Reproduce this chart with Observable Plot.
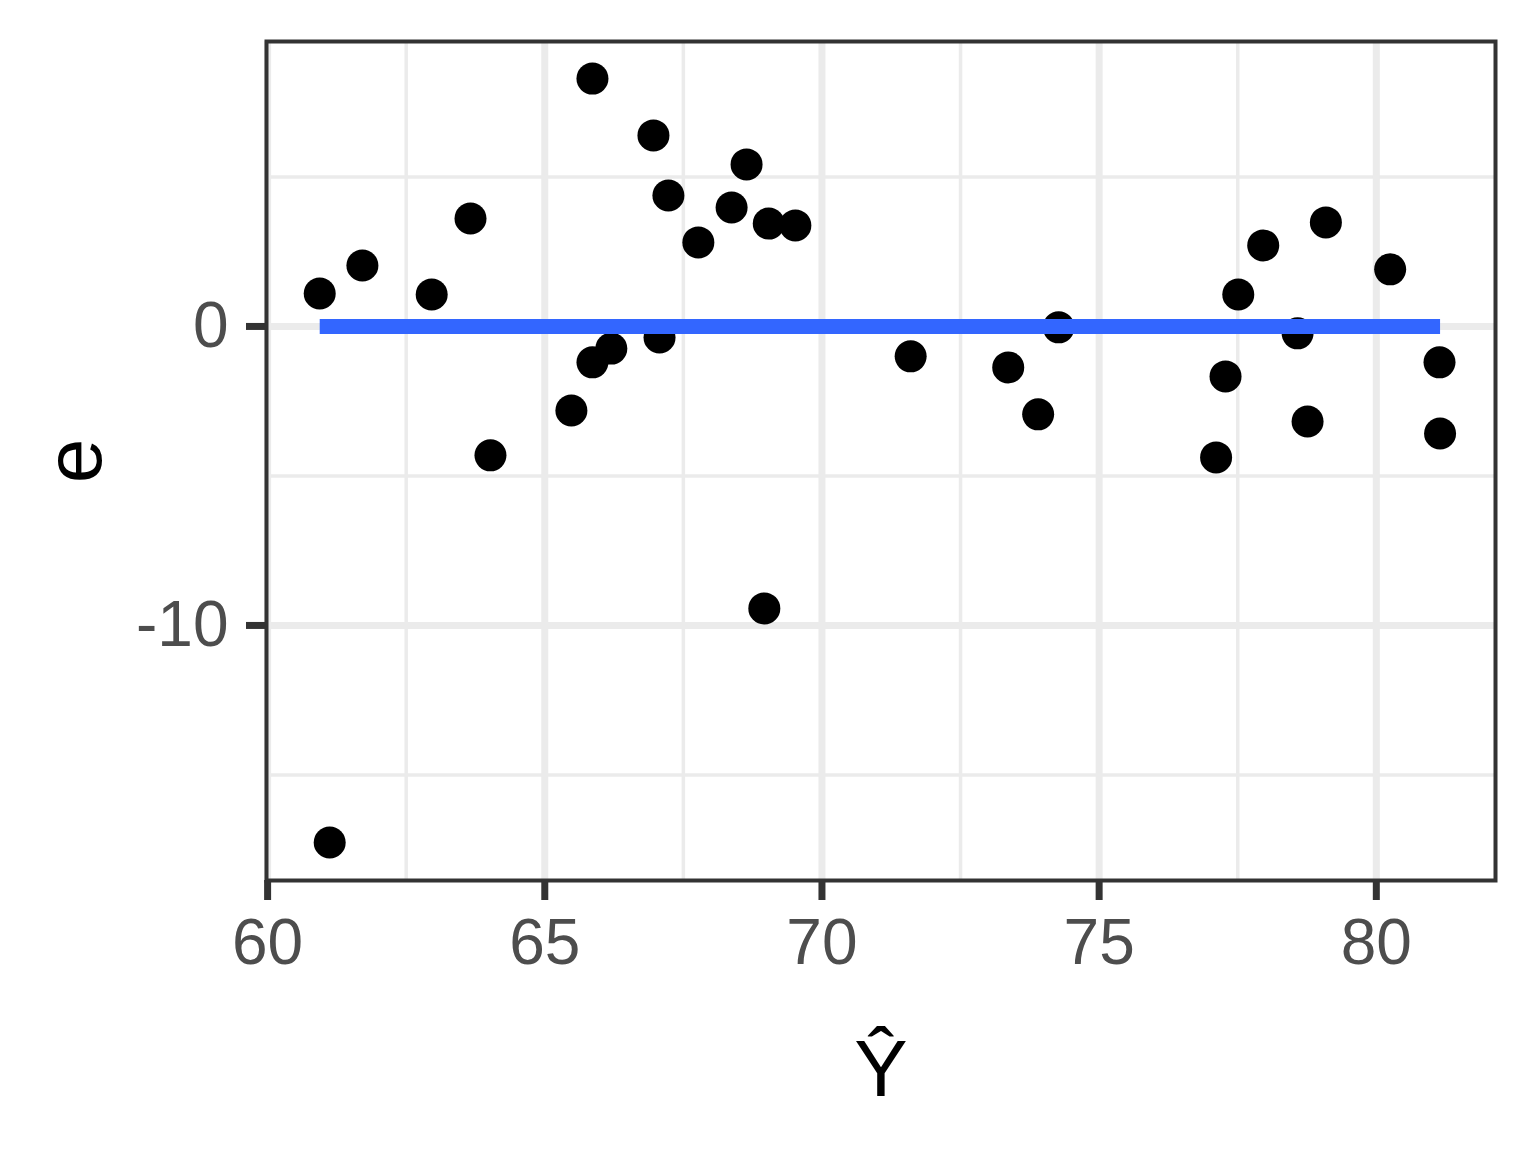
<!DOCTYPE html>
<html>
<head>
<meta charset="utf-8">
<script src="https://cdn.jsdelivr.net/npm/d3@7"></script>
<script src="https://cdn.jsdelivr.net/npm/@observablehq/plot@0.6"></script>
<style>
  html, body { margin: 0; padding: 0; background: #fff; }
</style>
</head>
<body>
<div id="chart"></div>
<script>
// Fitted values (Y-hat) and residuals (e)
const fitted = [60.94, 61.12, 61.71, 62.96, 63.66, 64.02, 65.48, 65.86, 65.86, 66.20,
  66.96, 67.07, 67.23, 67.77, 68.37, 68.64, 69.04, 68.96, 69.52, 71.60,
  73.36, 73.90, 74.27, 77.11, 77.28, 77.51, 77.96, 78.58, 78.76, 79.09,
  80.25, 81.14, 81.15];
const resid = [1.10, -17.26, 2.04, 1.07, 3.61, -4.31, -2.81, 8.29, -1.20, -0.74,
  6.39, -0.37, 4.38, 2.81, 3.98, 5.42, 3.44, -9.43, 3.38, -1.00,
  -1.37, -2.94, -0.03, -4.38, -1.67, 1.07, 2.71, -0.23, -3.18, 3.48,
  1.91, -1.20, -3.58];

// Smoother (linear fit of residuals on fitted values)
const smoothX = [60.94, 81.15];
const smoothY = [0, 0];

const xTicks = [60, 65, 70, 75, 80];
const xMinor = [62.5, 67.5, 72.5, 77.5];
const yTicks = [-10, 0];
const yMinor = [-15, -5, 5];

const xTitle = "Ŷ";
const yTitle = "e";

const points = fitted.map((x, i) => ({x, y: resid[i]}));
const smooth = smoothX.map((x, i) => ({x, y: smoothY[i]}));

const chart = Plot.plot({
  width: 1536,
  height: 1152,
  marginLeft: 266,
  marginRight: 41,
  marginTop: 41,
  marginBottom: 272,
  style: {fontFamily: "'Liberation Sans', Arial, sans-serif", background: "#fff", overflow: "visible"},
  x: {domain: [59.98, 82.15]},
  y: {domain: [-18.53, 9.53]},
  marks: [
    Plot.gridX(xMinor, {stroke: "#EBEBEB", strokeOpacity: 1, strokeWidth: 3.5}),
    Plot.gridY(yMinor, {stroke: "#EBEBEB", strokeOpacity: 1, strokeWidth: 3.5}),
    Plot.gridX(xTicks, {stroke: "#EBEBEB", strokeOpacity: 1, strokeWidth: 7}),
    Plot.gridY(yTicks, {stroke: "#EBEBEB", strokeOpacity: 1, strokeWidth: 7}),
    Plot.dot(points, {x: "x", y: "y", r: 16, fill: "black", stroke: "none"}),
    Plot.line(smooth, {x: "x", y: "y", stroke: "#3366FF", strokeWidth: 15, strokeLinecap: "butt"}),
    Plot.frame({stroke: "#333333", strokeWidth: 4}),
    Plot.axisX(xTicks, {tickSize: 20, tickPadding: 18, strokeWidth: 7, stroke: "#333333", fill: "#4D4D4D", fontSize: 64, label: null}),
    Plot.axisY(yTicks, {tickSize: 20, tickPadding: 18, strokeWidth: 7, stroke: "#333333", fill: "#4D4D4D", fontSize: 64, label: null, tickFormat: d => String(d)}),
    Plot.text([yTitle], {frameAnchor: "left", dx: -166, rotate: -90, lineAnchor: "bottom", textAnchor: "middle", fontSize: 80, fill: "black"}),
    Plot.text([xTitle], {frameAnchor: "bottom", dy: 215, lineAnchor: "bottom", textAnchor: "middle", fontSize: 80, fill: "black"})
  ]
});
document.getElementById("chart").appendChild(chart);
</script>
</body>
</html>
